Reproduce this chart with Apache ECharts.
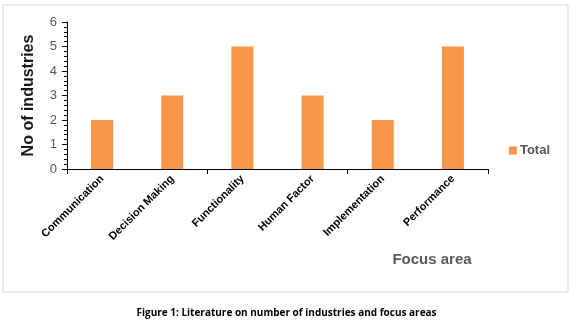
<!DOCTYPE html>
<html><head><meta charset="utf-8">
<script src="https://cdn.jsdelivr.net/npm/echarts@6/dist/echarts.min.js"></script>
<style>html,body{margin:0;padding:0;background:#fff}#c{width:573px;height:325px}</style>
</head><body><div id="c"></div>
<script>
const categories = ['Communication','Decision Making','Functionality','Human Factor','Implementation','Performance'];
const totals = [2, 3, 5, 3, 2, 5];
const yTicks = [0, 1, 2, 3, 4, 5, 6];
const seriesName = 'Total';
const xTitle = 'Focus area';
const yTitle = 'No of industries';
const caption = 'Figure 1: Literature on number of industries and focus areas';

const halfCats = [];
categories.forEach(c => { halfCats.push(c + '_a'); halfCats.push(c + '_b'); });

const chart = echarts.init(document.getElementById('c'), null, {renderer: 'canvas'});
chart.setOption({
  animation: false,
  backgroundColor: '#fff',
  grid: {left: 67, right: 85, top: 22, bottom: 156, containLabel: false},
  title: {
    text: caption, left: 'center', top: 303,
    textStyle: {fontFamily: 'Open Sans', fontWeight: 'bold', fontSize: 10, color: '#000'}
  },
  graphic: [{
    type: 'rect', shape: {x: 3, y: 5, width: 565, height: 287},
    style: {fill: 'none', stroke: '#d9d9d9', lineWidth: 1}, silent: true, z: -1
  }],
  legend: {
    data: [seriesName], right: 18, top: 139, itemWidth: 8, itemHeight: 8, itemGap: 4,
    icon: 'rect',
    textStyle: {fontFamily: 'Liberation Sans', fontSize: 13, fontWeight: 'bold', color: '#595959', padding: [0,0,0,-2]}
  },
  xAxis: [{
    type: 'category', data: categories,
    name: xTitle, nameLocation: 'middle', nameGap: 83,
    nameTextStyle: {fontFamily: 'Liberation Sans', fontWeight: 'bold', fontSize: 15, color: '#595959', padding: [0,0,0,309]},
    axisLine: {lineStyle: {color: '#000', width: 1}},
    axisTick: {show: false},
    axisLabel: {rotate: 45, interval: 0, fontFamily: 'Liberation Sans', fontWeight: 'bold', fontSize: 11, color: '#000', margin: 8}
  }, {
    type: 'category', data: halfCats, position: 'bottom', gridIndex: 0,
    axisLine: {show: false},
    axisTick: {show: true, length: 5, lineStyle: {color: '#000'}},
    axisLabel: {show: false}
  }],
  yAxis: {
    type: 'value', min: yTicks[0], max: yTicks[yTicks.length-1], interval: 1,
    name: yTitle, nameLocation: 'middle', nameGap: 30, nameRotate: 90,
    nameTextStyle: {fontFamily: 'Liberation Sans', fontWeight: 'bold', fontSize: 16, color: '#1a1a1a'},
    axisLine: {show: true, lineStyle: {color: '#000'}},
    axisTick: {show: true, length: 5, lineStyle: {color: '#000'}},
    minorTick: {show: true, splitNumber: 5, length: 3, lineStyle: {color: '#000'}},
    splitLine: {show: false},
    axisLabel: {fontFamily: 'Liberation Sans', fontSize: 13, color: '#595959', margin: 10}
  },
  series: [{
    name: seriesName, type: 'bar', data: totals, barWidth: 22, xAxisIndex: 0,
    itemStyle: {color: '#F79646'}
  }]
});
</script></body></html>
